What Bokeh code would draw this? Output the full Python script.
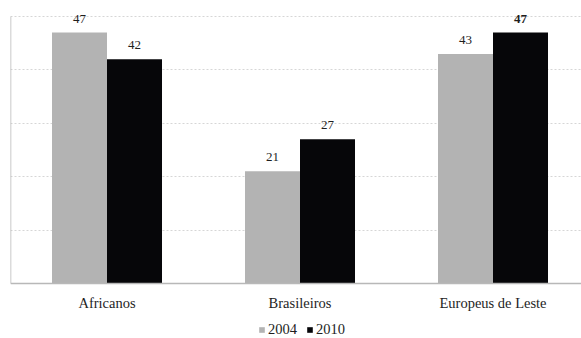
from bokeh.plotting import figure
from bokeh.models import (ColumnDataSource, Range1d, FixedTicker, LabelSet,
                          Legend, LegendItem)
from bokeh.embed import file_html
from bokeh.resources import INLINE

# Share of respondents by origin group, two survey years
categories = ["Africanos", "Brasileiros", "Europeus de Leste"]
years = ["2004", "2010"]
values_2004 = [47, 21, 43]
values_2010 = [42, 27, 47]
grid_values = [0, 10, 20, 30, 40, 50]

FONT = "Liberation Serif"
GREY = "#b3b3b3"
BLACK = "#060609"
TEXT = "#1e1e1e"
AXIS = "#b8b8b8"
BAR_W = 0.285
X_END = 571 / 193

idx = list(range(len(categories)))
src04 = ColumnDataSource(dict(
    x=[i + 0.5 - BAR_W / 2 for i in idx], top=values_2004,
    label=[str(v) for v in values_2004]))
src10 = ColumnDataSource(dict(
    x=[i + 0.5 + BAR_W / 2 for i in idx], top=values_2010,
    label=[str(v) for v in values_2010],
    style=["normal", "normal", "bold"]))
cats = ColumnDataSource(dict(x=[i + 0.5 for i in idx],
                             y=[0] * len(idx), name=categories))

# frame spans the whole canvas; room below zero holds the category names
# and the legend
p = figure(width=581, height=338, output_backend="svg", toolbar_location=None,
           x_range=Range1d(0, X_END), y_range=Range1d(-10.3, 53),
           frame_width=571, frame_height=338,
           min_border_left=10, min_border_right=0, min_border_top=0,
           min_border_bottom=0)
p.outline_line_color = None
p.background_fill_color = "white"
p.border_fill_color = "white"
p.xaxis.visible = False
p.yaxis.visible = False
p.xgrid.grid_line_color = None
p.yaxis.ticker = FixedTicker(ticks=grid_values[1:])
p.ygrid.grid_line_color = "#d6d6d6"
p.ygrid.grid_line_dash = "2 2"

r04 = p.vbar(x="x", top="top", width=BAR_W, bottom=0, source=src04,
             fill_color=GREY, line_color=None)
r10 = p.vbar(x="x", top="top", width=BAR_W, bottom=0, source=src10,
             fill_color=BLACK, line_color=None)

# axis lines
p.segment(x0=[0], y0=[0], x1=[X_END], y1=[0], line_color=AXIS, line_width=1.5)
p.segment(x0=[0], y0=[grid_values[0]], x1=[0], y1=[grid_values[-1]],
          line_color=AXIS, line_width=1.5)

# category names under the axis
p.text(x="x", y="y", text="name", source=cats, text_align="center",
       text_baseline="top", y_offset=11, text_font_size="14.5px",
       text_font={"value": FONT}, text_color=TEXT)

# value labels above bars
p.add_layout(LabelSet(x="x", y="top", text="label", source=src04,
                      text_align="center", text_baseline="bottom", y_offset=10,
                      text_font=FONT, text_font_size="13px", text_color=TEXT))
p.add_layout(LabelSet(x="x", y="top", text="label", source=src10,
                      text_align="center", text_baseline="bottom", y_offset=10,
                      text_font=FONT, text_font_size="13px",
                      text_font_style="style", text_color=TEXT))

legend = Legend(items=[LegendItem(label=years[0], renderers=[r04]),
                       LegendItem(label=years[1], renderers=[r10])],
                orientation="horizontal", location=(248, 0),
                label_text_font=FONT, label_text_font_size="14.5px",
                label_text_color=TEXT,
                glyph_width=7, glyph_height=7, label_standoff=3, spacing=9,
                padding=0, margin=0, border_line_color=None,
                background_fill_alpha=0, label_height=14)
p.add_layout(legend)

open("out.html", "w").write(file_html(p, INLINE))
